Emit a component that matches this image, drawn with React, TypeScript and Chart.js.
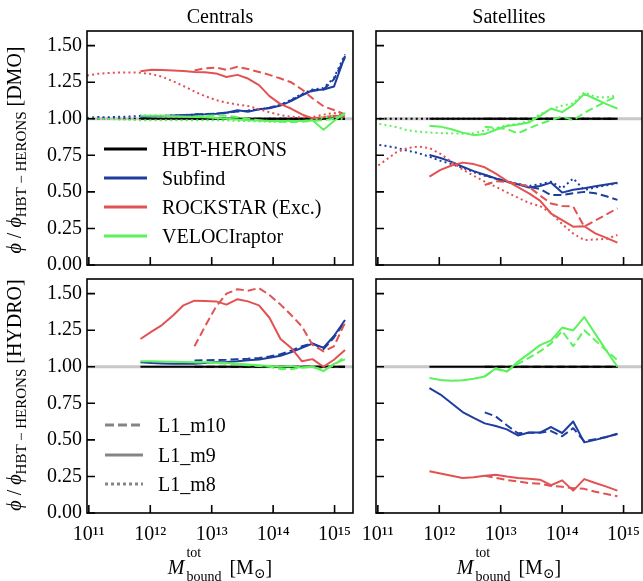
import React, { useEffect, useRef } from "react";
import { Chart, registerables } from "chart.js";

Chart.register(...registerables);

const FONT = "'Liberation Serif', 'Times New Roman', 'DejaVu Serif', serif";

// ---------- x grids: log10 of M_bound^tot bin centres ----------
const CEN_M8_LOGM = [10.97, 11.14, 11.32, 11.49, 11.67, 11.84, 12.02, 12.19, 12.37, 12.54, 12.72, 12.89, 13.07, 13.24, 13.42, 13.59, 13.77, 13.94, 14.12, 14.29, 14.47, 14.64, 14.82, 14.99, 15.17];
const CEN_M9_LOGM = [11.84, 12.02, 12.19, 12.37, 12.54, 12.72, 12.89, 13.07, 13.24, 13.42, 13.59, 13.77, 13.94, 14.12, 14.29, 14.47, 14.64, 14.82, 14.99, 15.17];
const CEN_M10_LOGM = [12.72, 12.89, 13.07, 13.24, 13.42, 13.59, 13.77, 13.94, 14.12, 14.29, 14.47, 14.64, 14.82, 14.99, 15.17];
const SAT_M8_LOGM = [10.94, 11.12, 11.3, 11.48, 11.66, 11.84, 12.02, 12.2, 12.38, 12.56, 12.74, 12.92, 13.1, 13.28, 13.46, 13.64, 13.82, 14.0, 14.18, 14.36, 14.54, 14.72, 14.9];
const SAT_M9_LOGM = [11.84, 12.02, 12.2, 12.38, 12.56, 12.74, 12.92, 13.1, 13.28, 13.46, 13.64, 13.82, 14.0, 14.18, 14.36, 14.54, 14.72, 14.9];
const SAT_M10_LOGM = [12.74, 12.92, 13.1, 13.28, 13.46, 13.64, 13.82, 14.0, 14.18, 14.36, 14.54, 14.72, 14.9];

// ---------- DMO centrals ----------
const DMO_CEN_SUBFIND_M8 = [1.005, 1.012, 1.01, 1.013, 1.015, 1.02, 1.02, 1.02, 1.022, 1.025, 1.028, 1.03, 1.033, 1.04, 1.05, 1.055, 1.065, 1.075, 1.095, 1.13, 1.17, 1.2, 1.21, 1.28, 1.44];
const DMO_CEN_SUBFIND_M9 = [1.01, 1.015, 1.018, 1.022, 1.025, 1.027, 1.03, 1.035, 1.042, 1.058, 1.048, 1.065, 1.072, 1.09, 1.12, 1.16, 1.195, 1.2, 1.22, 1.43];
const DMO_CEN_SUBFIND_M10 = [1.03, 1.032, 1.035, 1.04, 1.05, 1.055, 1.065, 1.075, 1.095, 1.125, 1.165, 1.19, 1.2, 1.27, 1.42];
const DMO_CEN_ROCKSTAR_M8 = [1.295, 1.307, 1.313, 1.316, 1.317, 1.314, 1.306, 1.287, 1.257, 1.224, 1.186, 1.155, 1.128, 1.11, 1.097, 1.087, 1.066, 1.044, 1.025, 1.014, 1.009, 1.012, 1.028, 1.04, 1.02];
const DMO_CEN_ROCKSTAR_M9 = [1.325, 1.335, 1.333, 1.33, 1.326, 1.32, 1.318, 1.31, 1.285, 1.3, 1.275, 1.23, 1.155, 1.1, 1.07, 1.03, 1.003, 1.01, 1.02, 1.015];
const DMO_CEN_ROCKSTAR_M10 = [1.33, 1.345, 1.35, 1.335, 1.355, 1.34, 1.32, 1.3, 1.275, 1.25, 1.2, 1.14, 1.085, 1.06, 1.03];
const DMO_CEN_VELOCI_M8 = [1.0, 1.0, 0.998, 0.995, 0.993, 0.99, 0.99, 0.99, 0.99, 0.99, 0.99, 0.99, 0.99, 0.988, 0.985, 0.985, 0.982, 0.98, 0.98, 0.98, 0.985, 0.99, 1.01, 1.02, 0.99];
const DMO_CEN_VELOCI_M9 = [1.02, 1.02, 1.02, 1.017, 1.015, 1.012, 1.01, 1.005, 1.0, 0.995, 0.99, 0.988, 0.985, 0.985, 0.985, 0.985, 0.99, 0.925, 0.985, 1.04];
const DMO_CEN_VELOCI_M10 = [1.015, 1.02, 1.022, 1.02, 1.01, 1.0, 0.99, 0.985, 0.98, 0.978, 0.98, 0.985, 0.99, 1.0, 1.03];

// ---------- DMO satellites ----------
const DMO_SAT_SUBFIND_M8 = [0.825, 0.815, 0.802, 0.782, 0.765, 0.74, 0.712, 0.69, 0.665, 0.635, 0.61, 0.59, 0.572, 0.555, 0.54, 0.553, 0.57, 0.524, 0.592, 0.513, 0.53, 0.545, 0.558];
const DMO_SAT_SUBFIND_M9 = [0.752, 0.732, 0.705, 0.672, 0.642, 0.617, 0.592, 0.57, 0.552, 0.53, 0.54, 0.563, 0.495, 0.515, 0.525, 0.538, 0.55, 0.563];
const DMO_SAT_SUBFIND_M10 = [0.615, 0.59, 0.568, 0.552, 0.535, 0.52, 0.478, 0.478, 0.49, 0.5, 0.49, 0.47, 0.445];
const DMO_SAT_ROCKSTAR_M8 = [0.66, 0.715, 0.77, 0.8, 0.81, 0.8, 0.76, 0.705, 0.652, 0.61, 0.57, 0.535, 0.497, 0.46, 0.425, 0.403, 0.355, 0.28, 0.215, 0.17, 0.175, 0.178, 0.205];
const DMO_SAT_ROCKSTAR_M9 = [0.605, 0.65, 0.68, 0.7, 0.69, 0.668, 0.625, 0.575, 0.532, 0.49, 0.44, 0.352, 0.307, 0.262, 0.265, 0.216, 0.185, 0.153];
const DMO_SAT_ROCKSTAR_M10 = [0.547, 0.572, 0.568, 0.555, 0.535, 0.475, 0.42, 0.403, 0.4, 0.262, 0.305, 0.345, 0.388];
const DMO_SAT_VELOCI_M8 = [0.97, 0.958, 0.943, 0.922, 0.912, 0.906, 0.902, 0.9, 0.898, 0.9, 0.92, 0.935, 0.955, 0.965, 0.985, 1.03, 1.065, 1.09, 1.105, 1.18, 1.15, 1.145, 1.16];
const DMO_SAT_VELOCI_M9 = [0.952, 0.946, 0.928, 0.905, 0.888, 0.895, 0.925, 0.95, 0.96, 0.975, 1.02, 1.07, 1.045, 1.095, 1.17, 1.135, 1.1, 1.07];
const DMO_SAT_VELOCI_M10 = [0.945, 0.938, 0.93, 0.9, 0.935, 0.965, 0.99, 1.015, 0.99, 1.04, 1.08, 1.12, 1.155];

// ---------- HYDRO centrals ----------
const HYD_CEN_SUBFIND_M9 = [1.03, 1.025, 1.022, 1.02, 1.02, 1.02, 1.025, 1.03, 1.033, 1.038, 1.045, 1.05, 1.062, 1.075, 1.098, 1.13, 1.158, 1.13, 1.21, 1.32];
const HYD_CEN_SUBFIND_M10 = [1.043, 1.045, 1.046, 1.048, 1.052, 1.055, 1.06, 1.07, 1.085, 1.11, 1.14, 1.16, 1.12, 1.2, 1.31];
const HYD_CEN_ROCKSTAR_M9 = [1.19, 1.24, 1.285, 1.35, 1.42, 1.452, 1.45, 1.447, 1.425, 1.462, 1.447, 1.42, 1.335, 1.19, 1.13, 1.037, 1.052, 1.0, 1.048, 1.115];
const HYD_CEN_ROCKSTAR_M10 = [1.14, 1.275, 1.41, 1.5, 1.53, 1.52, 1.538, 1.49, 1.425, 1.355, 1.275, 1.15, 1.105, 1.14, 1.3];
const HYD_CEN_VELOCI_M9 = [1.038, 1.037, 1.036, 1.034, 1.032, 1.03, 1.03, 1.028, 1.025, 1.02, 1.015, 1.01, 1.005, 1.0, 1.005, 0.995, 1.0, 0.97, 1.02, 1.05];
const HYD_CEN_VELOCI_M10 = [1.03, 1.03, 1.025, 1.02, 1.015, 1.01, 1.005, 1.0, 0.985, 0.983, 0.995, 1.0, 0.98, 1.01, 1.07];

// ---------- HYDRO satellites ----------
const HYD_SAT_SUBFIND_M9 = [0.854, 0.81, 0.75, 0.69, 0.65, 0.613, 0.595, 0.572, 0.53, 0.55, 0.55, 0.588, 0.547, 0.626, 0.483, 0.5, 0.52, 0.542];
const HYD_SAT_SUBFIND_M10 = [0.688, 0.66, 0.6, 0.545, 0.548, 0.548, 0.56, 0.525, 0.58, 0.49, 0.505, 0.52, 0.54];
const HYD_SAT_ROCKSTAR_M9 = [0.285, 0.27, 0.255, 0.24, 0.245, 0.255, 0.262, 0.25, 0.24, 0.235, 0.228, 0.19, 0.223, 0.153, 0.232, 0.205, 0.18, 0.153];
const HYD_SAT_ROCKSTAR_M10 = [0.255, 0.24, 0.225, 0.215, 0.205, 0.2, 0.185, 0.18, 0.17, 0.165, 0.145, 0.13, 0.114];
const HYD_SAT_VELOCI_M9 = [0.923, 0.91, 0.904, 0.908, 0.918, 0.934, 0.99, 0.968, 1.035, 1.09, 1.148, 1.18, 1.268, 1.248, 1.34, 1.225, 1.11, 1.0];
const HYD_SAT_VELOCI_M10 = [0.934, 0.985, 0.968, 1.02, 1.06, 1.105, 1.16, 1.245, 1.14, 1.25, 1.18, 1.11, 1.045];

// HBT-HERONS relative to itself, and the grey reference line
const HBT_RATIO = [1, 1];
const REF_RATIO = [1, 1];

// axes
const X_MIN_LOG = 10.97;
const X_MAX_LOG = 15.3;
const X_TICK_VALUES = [1e11, 1e12, 1e13, 1e14, 1e15];
const X_TICK_LABELS = ["10¹¹", "10¹²", "10¹³", "10¹⁴", "10¹⁵"];
const Y_MIN = 0;
const Y_MAX = 1.6;
const Y_TICK_VALUES = [0, 0.25, 0.5, 0.75, 1.0, 1.25, 1.5];

const FINDER_LABELS = ["HBT-HERONS", "Subfind", "ROCKSTAR (Exc.)", "VELOCIraptor"];
const RES_LABELS = ["L1_m10", "L1_m9", "L1_m8"];

type Finder = "hbt" | "subfind" | "rockstar" | "velociraptor";
type Res = "m8" | "m9" | "m10";

const FINDER_COLOR: Record<Finder, string> = {
  hbt: "#000000",
  subfind: "#1f3d9e",
  rockstar: "#e25252",
  velociraptor: "#5cf25c",
};
const FINDER_ORDER: Record<Finder, number> = { velociraptor: 1, rockstar: 2, subfind: 3, hbt: 4 };
const RES_DASH: Record<Res, number[]> = { m10: [8, 4], m9: [], m8: [2, 3.2] };

interface Curve { finder: Finder; res: Res; logm: number[]; ratio: number[] }
interface PanelDef {
  key: string;
  area: { l: number; t: number; r: number; b: number };
  showX: boolean;
  showY: boolean;
  curves: Curve[];
}

const ends = (a: number[]) => [a[0], a[a.length - 1]];

const PANELS: PanelDef[] = [
  {
    key: "dmo-cen", area: { l: 87, t: 31, r: 353, b: 265 }, showX: false, showY: true,
    curves: [
      { finder: "velociraptor", res: "m8", logm: CEN_M8_LOGM, ratio: DMO_CEN_VELOCI_M8 },
      { finder: "velociraptor", res: "m9", logm: CEN_M9_LOGM, ratio: DMO_CEN_VELOCI_M9 },
      { finder: "velociraptor", res: "m10", logm: CEN_M10_LOGM, ratio: DMO_CEN_VELOCI_M10 },
      { finder: "rockstar", res: "m8", logm: CEN_M8_LOGM, ratio: DMO_CEN_ROCKSTAR_M8 },
      { finder: "rockstar", res: "m9", logm: CEN_M9_LOGM, ratio: DMO_CEN_ROCKSTAR_M9 },
      { finder: "rockstar", res: "m10", logm: CEN_M10_LOGM, ratio: DMO_CEN_ROCKSTAR_M10 },
      { finder: "subfind", res: "m8", logm: CEN_M8_LOGM, ratio: DMO_CEN_SUBFIND_M8 },
      { finder: "subfind", res: "m9", logm: CEN_M9_LOGM, ratio: DMO_CEN_SUBFIND_M9 },
      { finder: "subfind", res: "m10", logm: CEN_M10_LOGM, ratio: DMO_CEN_SUBFIND_M10 },
      { finder: "hbt", res: "m8", logm: ends(CEN_M8_LOGM), ratio: HBT_RATIO },
      { finder: "hbt", res: "m9", logm: ends(CEN_M9_LOGM), ratio: HBT_RATIO },
      { finder: "hbt", res: "m10", logm: ends(CEN_M10_LOGM), ratio: HBT_RATIO },
    ],
  },
  {
    key: "dmo-sat", area: { l: 376, t: 31, r: 642, b: 265 }, showX: false, showY: false,
    curves: [
      { finder: "velociraptor", res: "m8", logm: SAT_M8_LOGM, ratio: DMO_SAT_VELOCI_M8 },
      { finder: "velociraptor", res: "m9", logm: SAT_M9_LOGM, ratio: DMO_SAT_VELOCI_M9 },
      { finder: "velociraptor", res: "m10", logm: SAT_M10_LOGM, ratio: DMO_SAT_VELOCI_M10 },
      { finder: "rockstar", res: "m8", logm: SAT_M8_LOGM, ratio: DMO_SAT_ROCKSTAR_M8 },
      { finder: "rockstar", res: "m9", logm: SAT_M9_LOGM, ratio: DMO_SAT_ROCKSTAR_M9 },
      { finder: "rockstar", res: "m10", logm: SAT_M10_LOGM, ratio: DMO_SAT_ROCKSTAR_M10 },
      { finder: "subfind", res: "m8", logm: SAT_M8_LOGM, ratio: DMO_SAT_SUBFIND_M8 },
      { finder: "subfind", res: "m9", logm: SAT_M9_LOGM, ratio: DMO_SAT_SUBFIND_M9 },
      { finder: "subfind", res: "m10", logm: SAT_M10_LOGM, ratio: DMO_SAT_SUBFIND_M10 },
      { finder: "hbt", res: "m8", logm: ends(SAT_M8_LOGM), ratio: HBT_RATIO },
      { finder: "hbt", res: "m9", logm: ends(SAT_M9_LOGM), ratio: HBT_RATIO },
      { finder: "hbt", res: "m10", logm: ends(SAT_M10_LOGM), ratio: HBT_RATIO },
    ],
  },
  {
    key: "hyd-cen", area: { l: 87, t: 279, r: 353, b: 513 }, showX: true, showY: true,
    curves: [
      { finder: "velociraptor", res: "m9", logm: CEN_M9_LOGM, ratio: HYD_CEN_VELOCI_M9 },
      { finder: "velociraptor", res: "m10", logm: CEN_M10_LOGM, ratio: HYD_CEN_VELOCI_M10 },
      { finder: "rockstar", res: "m9", logm: CEN_M9_LOGM, ratio: HYD_CEN_ROCKSTAR_M9 },
      { finder: "rockstar", res: "m10", logm: CEN_M10_LOGM, ratio: HYD_CEN_ROCKSTAR_M10 },
      { finder: "subfind", res: "m9", logm: CEN_M9_LOGM, ratio: HYD_CEN_SUBFIND_M9 },
      { finder: "subfind", res: "m10", logm: CEN_M10_LOGM, ratio: HYD_CEN_SUBFIND_M10 },
      { finder: "hbt", res: "m9", logm: ends(CEN_M9_LOGM), ratio: HBT_RATIO },
      { finder: "hbt", res: "m10", logm: ends(CEN_M10_LOGM), ratio: HBT_RATIO },
    ],
  },
  {
    key: "hyd-sat", area: { l: 376, t: 279, r: 642, b: 513 }, showX: true, showY: false,
    curves: [
      { finder: "velociraptor", res: "m9", logm: SAT_M9_LOGM, ratio: HYD_SAT_VELOCI_M9 },
      { finder: "velociraptor", res: "m10", logm: SAT_M10_LOGM, ratio: HYD_SAT_VELOCI_M10 },
      { finder: "rockstar", res: "m9", logm: SAT_M9_LOGM, ratio: HYD_SAT_ROCKSTAR_M9 },
      { finder: "rockstar", res: "m10", logm: SAT_M10_LOGM, ratio: HYD_SAT_ROCKSTAR_M10 },
      { finder: "subfind", res: "m9", logm: SAT_M9_LOGM, ratio: HYD_SAT_SUBFIND_M9 },
      { finder: "subfind", res: "m10", logm: SAT_M10_LOGM, ratio: HYD_SAT_SUBFIND_M10 },
      { finder: "hbt", res: "m9", logm: ends(SAT_M9_LOGM), ratio: HBT_RATIO },
      { finder: "hbt", res: "m10", logm: ends(SAT_M10_LOGM), ratio: HBT_RATIO },
    ],
  },
];

const AXIS_W = 87;
const AXIS_H = 45;
const PAD_T = 10;
const PAD_R = 1;

const framePlugin = {
  id: "frameTicks",
  afterDraw(chart: any) {
    const { ctx, chartArea: a, scales } = chart;
    ctx.save();
    ctx.strokeStyle = "#000";
    ctx.lineWidth = 1.6;
    ctx.strokeRect(a.left, a.top, a.right - a.left, a.bottom - a.top);
    ctx.beginPath();
    for (const t of scales.y.ticks) {
      const py = scales.y.getPixelForValue(t.value);
      ctx.moveTo(a.left, py);
      ctx.lineTo(a.left + 8, py);
    }
    for (const t of scales.x.ticks) {
      const px = scales.x.getPixelForValue(t.value);
      ctx.moveTo(px, a.bottom);
      ctx.lineTo(px, a.bottom - 8);
    }
    ctx.stroke();
    ctx.restore();
  },
};

const noPad = (s: any) => {
  s.paddingTop = 0;
  s.paddingBottom = 0;
  s.paddingLeft = 0;
  s.paddingRight = 0;
};

function buildConfig(p: PanelDef): any {
  const datasets: any[] = p.curves.map((c) => ({
    label: `${c.finder} ${c.res}`,
    data: c.logm.map((l, i) => ({ x: Math.pow(10, l), y: c.ratio[i] })),
    borderColor: FINDER_COLOR[c.finder],
    borderWidth: 2,
    borderDash: RES_DASH[c.res],
    borderCapStyle: "butt",
    borderJoinStyle: "round",
    pointRadius: 0,
    tension: 0,
    fill: false,
    order: FINDER_ORDER[c.finder],
  }));
  datasets.push({
    label: "reference",
    data: [X_MIN_LOG, X_MAX_LOG].map((l, i) => ({ x: Math.pow(10, l), y: REF_RATIO[i] })),
    borderColor: "#c8c8c8",
    borderWidth: 3,
    pointRadius: 0,
    fill: false,
    order: 10,
  });
  return {
    type: "line",
    data: { datasets },
    plugins: [framePlugin],
    options: {
      animation: false,
      responsive: false,
      devicePixelRatio: 1,
      events: [],
      layout: { padding: { top: PAD_T, right: PAD_R, left: 0, bottom: 0 } },
      plugins: { legend: { display: false }, tooltip: { enabled: false }, title: { display: false } },
      scales: {
        x: {
          type: "logarithmic",
          min: Math.pow(10, X_MIN_LOG),
          max: Math.pow(10, X_MAX_LOG),
          afterBuildTicks: (s: any) => { s.ticks = X_TICK_VALUES.map((v) => ({ value: v })); },
          afterFit: (s: any) => { s.height = AXIS_H; noPad(s); },
          grid: { display: false, drawTicks: false },
          border: { display: false },
          ticks: {
            display: p.showX,
            autoSkip: false,
            maxRotation: 0,
            padding: 10,
            color: "#000",
            font: { family: FONT, size: 20 },
            callback: (v: number) => X_TICK_LABELS[X_TICK_VALUES.indexOf(v)] ?? "",
          },
        },
        y: {
          type: "linear",
          min: Y_MIN,
          max: Y_MAX,
          afterBuildTicks: (s: any) => { s.ticks = Y_TICK_VALUES.map((v) => ({ value: v })); },
          afterFit: (s: any) => { s.width = AXIS_W; noPad(s); },
          grid: { display: false, drawTicks: false },
          border: { display: false },
          ticks: {
            display: p.showY,
            padding: 5,
            color: "#000",
            font: { family: FONT, size: 20 },
            callback: (v: number) => Number(v).toFixed(2),
          },
        },
      },
    },
  };
}

function Panel({ panel }: { panel: PanelDef }) {
  const ref = useRef<HTMLCanvasElement | null>(null);
  const { area } = panel;
  const left = area.l - AXIS_W;
  const top = area.t - PAD_T;
  const width = area.r - area.l + AXIS_W + PAD_R;
  const height = area.b - area.t + PAD_T + AXIS_H;
  useEffect(() => {
    if (!ref.current) return;
    const chart = new Chart(ref.current, buildConfig(panel));
    return () => chart.destroy();
  }, [panel]);
  return (
    <canvas ref={ref} width={width} height={height}
      style={{ position: "absolute", left, top, width, height }} />
  );
}

const abs = (o: React.CSSProperties): React.CSSProperties => ({ position: "absolute", whiteSpace: "nowrap", ...o });

function YLabel({ cy, tag }: { cy: number; tag: string }) {
  return (
    <div style={abs({ left: 17, top: cy, transform: "translate(-50%, -50%) rotate(-90deg)", fontSize: 20, lineHeight: "24px" })}>
      <i>ϕ</i> / <i>ϕ</i>
      <span style={{ fontSize: 15, verticalAlign: -5 }}>HBT − HERONS</span> [{tag}]
    </div>
  );
}

function XLabel({ cx }: { cx: number }) {
  return (
    <div style={abs({ left: cx, top: 555, transform: "translateX(-50%)", fontSize: 20, lineHeight: "24px" })}>
      <i>M</i>
      <span style={{ display: "inline-block", position: "relative", width: 40, height: 1 }}>
        <span style={abs({ left: 2, bottom: 14.5, fontSize: 14, lineHeight: "14px" })}>tot</span>
        <span style={abs({ left: 2, bottom: -10, fontSize: 14, lineHeight: "14px" })}>bound</span>
      </span>
      {" "}[M<span style={{ fontSize: 14, verticalAlign: -4 }}>⊙</span>]
    </div>
  );
}

function LegendLine({ x1, x2, y, color, dash }: { x1: number; x2: number; y: number; color: string; dash: number[] }) {
  return (
    <svg style={abs({ left: x1, top: y - 3, overflow: "visible" })} width={x2 - x1} height={6}>
      <line x1={0} y1={3} x2={x2 - x1} y2={3} stroke={color} strokeWidth={3}
        strokeDasharray={dash.length ? dash.join(" ") : undefined} />
    </svg>
  );
}

const FINDER_KEYS: Finder[] = ["hbt", "subfind", "rockstar", "velociraptor"];
const RES_KEYS: Res[] = ["m10", "m9", "m8"];
const LEGEND_DASH: Record<Res, number[]> = { m10: [9, 4], m9: [], m8: [3, 3] };

export default function App() {
  useEffect(() => { document.body.style.margin = "0"; }, []);
  return (
    <div style={{ position: "absolute", left: 0, top: 0, width: 643, height: 581, overflow: "hidden", background: "#fff", fontFamily: FONT, color: "#000" }}>
      {PANELS.map((p) => <Panel key={p.key} panel={p} />)}

      <div style={abs({ left: 220, top: 4, transform: "translateX(-50%)", fontSize: 20, lineHeight: "24px" })}>Centrals</div>
      <div style={abs({ left: 509, top: 4, transform: "translateX(-50%)", fontSize: 20, lineHeight: "24px" })}>Satellites</div>

      <YLabel cy={150} tag="DMO" />
      <YLabel cy={395} tag="HYDRO" />
      <XLabel cx={220} />
      <XLabel cx={509} />

      {FINDER_KEYS.map((f, i) => (
        <React.Fragment key={f}>
          <LegendLine x1={104} x2={147} y={149 + i * 29} color={FINDER_COLOR[f]} dash={[]} />
          <div style={abs({ left: 162, top: 149 + i * 29 - 12, fontSize: 20, lineHeight: "24px" })}>{FINDER_LABELS[i]}</div>
        </React.Fragment>
      ))}
      {RES_KEYS.map((r, i) => (
        <React.Fragment key={r}>
          <LegendLine x1={105} x2={143} y={425 + i * 29.5} color="#858585" dash={LEGEND_DASH[r]} />
          <div style={abs({ left: 158, top: 425 + i * 29.5 - 12, fontSize: 20, lineHeight: "24px" })}>{RES_LABELS[i]}</div>
        </React.Fragment>
      ))}
    </div>
  );
}
